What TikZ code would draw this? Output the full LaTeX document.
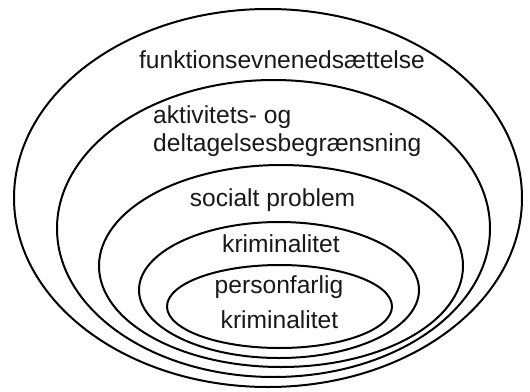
\documentclass[tikz,border=0pt]{standalone}
\usepackage{fontspec}
\setmainfont{Liberation Sans}
\usetikzlibrary{shapes.geometric}
\begin{document}
\begin{tikzpicture}[x=1pt,y=-1pt,
  ring/.style={draw=black, line width=2pt, ellipse, inner sep=0pt, outer sep=0pt},
  lbl/.style={font=\fontsize{24.6}{28}\selectfont, inner sep=0pt, text=black!90}]
\useasboundingbox[fill=white] (0,0) rectangle (530,391);
\node[ring, minimum width=508pt, minimum height=378pt] (e1) at (268,198) {};
\node[ring, minimum width=433pt, minimum height=297pt] (e2) at (273.5,228.5) {};
\node[ring, minimum width=364pt, minimum height=202pt] (e3) at (281,266) {};
\node[ring, minimum width=280pt, minimum height=136pt] (e4) at (279,290) {};
\node[ring, minimum width=225pt, minimum height=83pt] (e5) at (279.5,306.5) {};
\node[lbl] (t1) at (282,60) {funktionsevnenedsættelse};
\node[lbl, anchor=west] (t2a) at (153,117) {aktivitets- og};
\node[lbl, anchor=west] (t2b) at (153,145) {deltagelsesbegrænsning};
\node[lbl] (t3) at (272.5,200) {socialt problem};
\node[lbl] (t4) at (281,244) {kriminalitet};
\node[lbl] (t5a) at (279,287) {personfarlig};
\node[lbl] (t5b) at (279.5,320) {kriminalitet};
\end{tikzpicture}
\end{document}
